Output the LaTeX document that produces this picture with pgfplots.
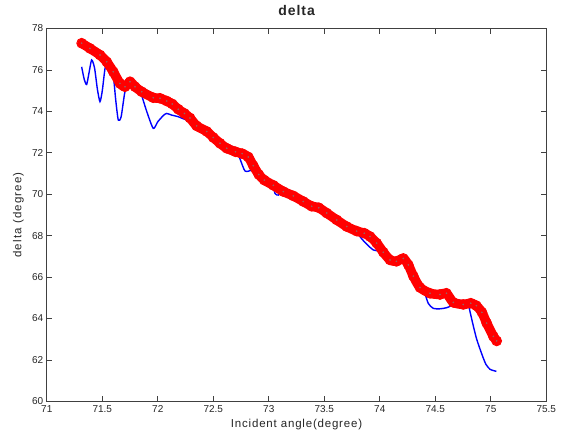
\documentclass[border=0pt]{standalone}
\usepackage{pgfplots}
\pgfplotsset{compat=1.18}
\usepackage{pgfplotstable}
\usepackage{fontspec}
\setmainfont{Liberation Sans}

\pgfplotstableread{
x y
71.314 77.29
71.389 77.04
71.479 76.72
71.540 76.39
71.599 75.91
71.659 75.35
71.704 75.19
71.750 75.43
71.795 75.19
71.855 74.95
71.959 74.66
72.020 74.63
72.080 74.50
72.130 74.36
72.185 74.10
72.240 73.90
72.290 73.68
72.350 73.30
72.441 73.03
72.500 72.74
72.560 72.46
72.621 72.22
72.700 72.05
72.760 71.96
72.815 71.80
72.860 71.38
72.910 70.95
72.960 70.68
73.041 70.43
73.131 70.13
73.221 69.92
73.311 69.65
73.386 69.42
73.450 69.35
73.522 69.09
73.612 68.76
73.702 68.44
73.792 68.22
73.860 68.12
73.912 67.96
73.972 67.64
74.032 67.20
74.092 66.83
74.150 66.76
74.212 66.90
74.257 66.59
74.302 66.05
74.362 65.50
74.452 65.22
74.542 65.16
74.600 65.22
74.662 64.78
74.752 64.68
74.820 64.74
74.870 64.62
74.920 64.30
74.963 63.78
75.023 63.14
75.053 62.92
}\reddata

\pgfplotstableread{
x y
71.314 76.15
71.337 75.55
71.359 75.30
71.380 75.85
71.404 76.48
71.430 76.10
71.455 75.10
71.479 74.47
71.500 75.00
71.524 76.05
71.550 76.55
71.580 76.30
71.599 75.80
71.620 74.60
71.644 73.58
71.670 73.75
71.704 74.95
71.740 75.40
71.770 75.45
71.800 75.30
71.840 75.00
71.900 74.00
71.959 73.18
72.000 73.50
72.050 73.80
72.080 73.90
72.125 73.82
72.180 73.75
72.275 73.55
72.350 73.45
72.441 73.20
72.500 72.92
72.560 72.64
72.621 72.40
72.700 72.22
72.741 71.70
72.786 71.12
72.846 71.17
72.880 71.35
72.910 71.10
72.960 70.85
73.030 70.55
73.056 70.04
73.086 69.96
73.110 70.22
73.131 70.30
73.221 70.10
73.311 69.83
73.386 69.60
73.450 69.53
73.522 69.27
73.612 68.94
73.702 68.62
73.780 68.35
73.822 67.95
73.880 67.60
73.942 67.31
74.000 67.25
74.032 67.15
74.092 66.95
74.150 66.90
74.212 67.05
74.257 66.75
74.302 66.20
74.362 65.65
74.400 65.30
74.437 64.73
74.482 64.49
74.542 64.47
74.600 64.52
74.640 64.62
74.662 64.90
74.752 64.85
74.790 64.85
74.812 64.35
74.840 63.70
74.873 63.00
74.918 62.30
74.955 61.80
74.993 61.55
75.050 61.45
}\bluedata

\begin{document}
\begin{tikzpicture}[x=1pt,y=1pt]
\useasboundingbox[fill=white] (-46.8,-35.6) rectangle (515.2,401.4);
\begin{axis}[
  at={(0,0)}, anchor=south west, scale only axis,
  width=499.5pt, height=372.9pt,
  xmin=71, xmax=75.5, ymin=60, ymax=78,
  xtick={71,71.5,72,72.5,73,73.5,74,74.5,75,75.5},
  ytick={60,62,64,66,68,70,72,74,76,78},
  tick align=inside, major tick length=5pt,
  axis line style={draw=black!75, line width=0.8pt},
  tick style={draw=black!75, line width=0.7pt},
  ticklabel style={font=\fontsize{10}{12}\selectfont, text=black!85},
  /pgf/number format/assume math mode=true,
  xticklabel style={yshift=-1pt},
  xlabel={Incident angle(degree)},
  ylabel={delta (degree)},
  xlabel style={at={(axis description cs:0.5,0)}, anchor=center, yshift=-23.5pt, font=\fontsize{11.5}{13}\selectfont\addfontfeature{LetterSpace=7}, text=black!85},
  ylabel style={at={(axis description cs:-0.057,0.5)}, anchor=center, font=\fontsize{11.5}{13}\selectfont\addfontfeature{LetterSpace=10}, text=black!85},
  title={delta},
  title style={at={(axis description cs:0.5,1)}, anchor=south, yshift=3pt, font=\fontsize{14}{16}\selectfont\bfseries\addfontfeature{LetterSpace=7}, text=black!85},
]
\addplot[color={rgb,255:red,0;green,0;blue,255}, line width=1.4pt, no markers, smooth, tension=0.4] table {\bluedata};
\addplot[color={rgb,255:red,255;green,0;blue,0}, line width=9.5pt, line cap=round, line join=round, no markers, smooth, tension=0.4] table {\reddata};
\addplot[only marks, mark=o, mark size=4.9pt, color={rgb,255:red,255;green,0;blue,0}, mark options={line width=0.9pt}] table {\reddata};
\addplot[only marks, mark=*, mark size=0.6pt, color={rgb,255:red,150;green,100;blue,100}] table {\reddata};
\end{axis}
\end{tikzpicture}
\end{document}
